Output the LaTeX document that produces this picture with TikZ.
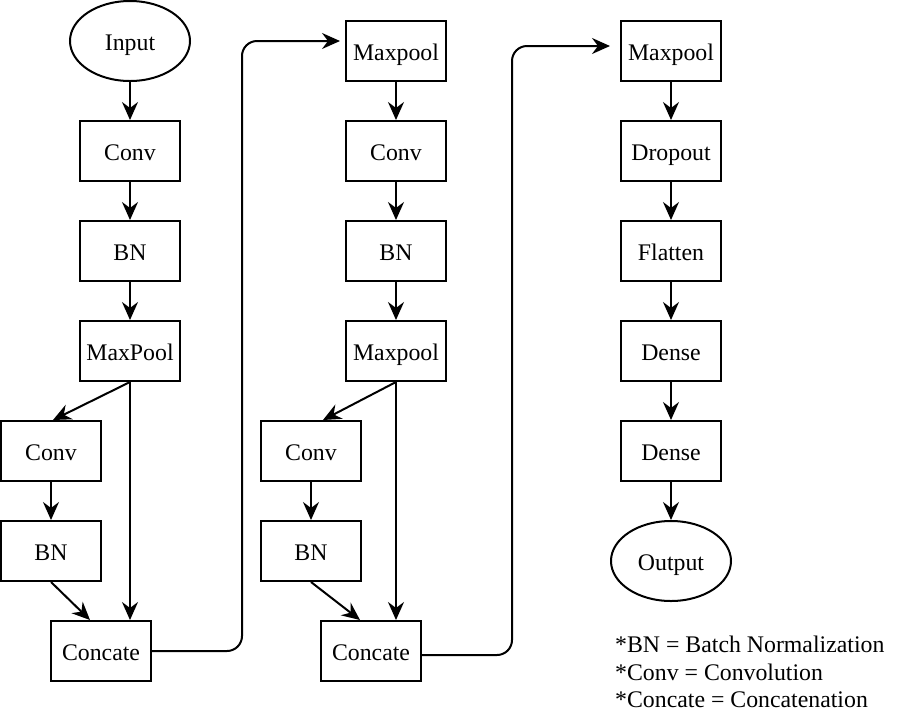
\documentclass[tikz,border=0pt]{standalone}
\usepackage{fontspec}
\setmainfont{Liberation Serif}
\usetikzlibrary{arrows.meta,shapes.geometric}
\begin{document}
\begin{tikzpicture}[x=1pt,y=-1pt,
  txt/.style={font=\fontsize{23.8}{28}\selectfont},
  box/.style={txt,draw,line width=2pt,minimum width=100pt,minimum height=60pt,inner sep=0pt,text height=19.4pt,text depth=0pt},
  ell/.style={txt,draw,ellipse,line width=2pt,minimum width=120pt,minimum height=80pt,inner sep=0pt,text height=19.4pt,text depth=0pt},
  leg/.style={txt,anchor=base west,inner sep=0pt},
  arr/.style={line width=2pt,-{Stealth[length=18pt,width=16pt,inset=6pt]}},
  elbow/.style={arr,rounded corners=15pt}]
\useasboundingbox (0,0) rectangle (914,724);
% column 1
\node[ell] (inp) at (130,41) {Input};
\node[box] (c1) at (130,151) {Conv};
\node[box] (bn1) at (130,251) {BN};
\node[box] (mp1) at (130,351) {MaxPool};
\node[box] (cv1) at (51,451) {Conv};
\node[box] (b1) at (51,551) {BN};
\node[box] (cc1) at (101,651) {Concate};
% column 2
\node[box] (mp2) at (396,51) {Maxpool};
\node[box] (cv2) at (396,151) {Conv};
\node[box] (bn2) at (396,251) {BN};
\node[box] (mp3) at (396,351) {Maxpool};
\node[box] (cvb) at (311,451) {Conv};
\node[box] (bnb) at (311,551) {BN};
\node[box] (cc2) at (371,651) {Concate};
% column 3
\node[box] (mx) at (671,51) {Maxpool};
\node[box] (dr) at (671,151) {Dropout};
\node[box] (fl) at (671,251) {Flatten};
\node[box] (d1) at (671,351) {Dense};
\node[box] (d2) at (671,451) {Dense};
\node[ell] (out) at (671,561) {Output};
% legend
\node[leg] (l1) at (615,652) {*BN = Batch Normalization};
\node[leg] (l2) at (615,680) {*Conv = Convolution};
\node[leg] (l3) at (615,707.5) {*Concate = Concatenation};
% arrows column 1
\draw[arr] (inp.south) -- (c1.north);
\draw[arr] (c1.south) -- (bn1.north);
\draw[arr] (bn1.south) -- (mp1.north);
\draw[arr] (mp1.south) -- ([xshift=2pt]cv1.north);
\draw[arr] (cv1.south) -- (b1.north);
\draw[arr] (b1.south) -- ([xshift=-11pt]cc1.north);
\draw[arr] (mp1.south) -- (mp1.south |- cc1.north);
% arrows column 2
\draw[arr] (mp2.south) -- (cv2.north);
\draw[arr] (cv2.south) -- (bn2.north);
\draw[arr] (bn2.south) -- (mp3.north);
\draw[arr] (mp3.south) -- ([xshift=12pt]cvb.north);
\draw[arr] (cvb.south) -- (bnb.north);
\draw[arr] (bnb.south) -- ([xshift=-11pt]cc2.north);
\draw[arr] (mp3.south) -- (mp3.south |- cc2.north);
% arrows column 3
\draw[arr] (mx.south) -- (dr.north);
\draw[arr] (dr.south) -- (fl.north);
\draw[arr] (fl.south) -- (d1.north);
\draw[arr] (d1.south) -- (d2.north);
\draw[arr] (d2.south) -- (out.north);
% elbow connectors
\draw[elbow,shorten >=5pt] (cc1.east) -- ++(90,0) |- ([yshift=10pt]mp2.west);
\draw[elbow,shorten >=10pt] ([yshift=-4pt]cc2.east) -- ++(90,0) |- ([yshift=5pt]mx.west);
\end{tikzpicture}
\end{document}
